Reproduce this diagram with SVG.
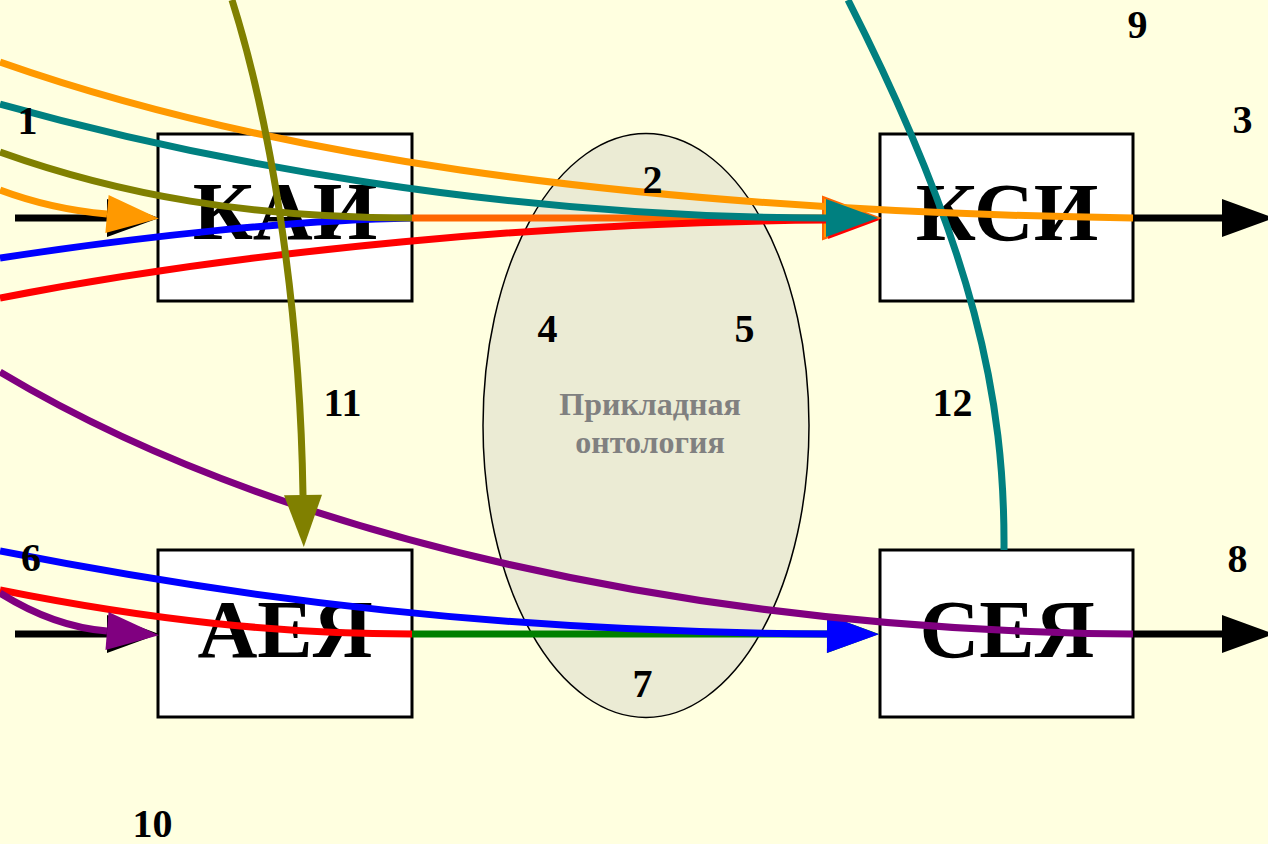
<svg xmlns="http://www.w3.org/2000/svg" width="1268" height="844" viewBox="0 0 1268 844">
<style>
.box{fill:#FFFFFF;stroke:#000000;stroke-width:3}
.bt{font-family:"Liberation Serif","Times New Roman",serif;font-weight:bold;font-size:83px;text-anchor:middle;fill:#000}
.num{font-family:"Liberation Serif","Times New Roman",serif;font-weight:bold;font-size:40px;text-anchor:middle;fill:#000}
.ont{font-family:"Liberation Serif","Times New Roman",serif;font-weight:bold;font-size:32px;text-anchor:middle;fill:#808080}
.c{fill:none;stroke-width:7}
</style>
<defs>
<marker id="aK" markerUnits="userSpaceOnUse" markerWidth="54" markerHeight="40" refX="0" refY="19" orient="auto" overflow="visible"><path d="M0,0 L52,19 L0,38 z" fill="#000000"/></marker>
<marker id="aO" markerUnits="userSpaceOnUse" markerWidth="54" markerHeight="40" refX="0" refY="19" orient="auto" overflow="visible"><path d="M0,0 L52,19 L0,38 z" fill="#FF9900"/></marker>
<marker id="aOR" markerUnits="userSpaceOnUse" markerWidth="56" markerHeight="44" refX="0" refY="21" orient="auto" overflow="visible"><path d="M0,0 L56,21 L0,42 z" fill="#FF9900" stroke="#FF6600" stroke-width="2"/></marker>
<marker id="aR" markerUnits="userSpaceOnUse" markerWidth="54" markerHeight="40" refX="0" refY="19" orient="auto" overflow="visible"><path d="M0,0 L52,19 L0,38 z" fill="#FF0000"/></marker>
<marker id="aT" markerUnits="userSpaceOnUse" markerWidth="54" markerHeight="40" refX="0" refY="19" orient="auto" overflow="visible"><path d="M0,0 L52,19 L0,38 z" fill="#008080"/></marker>
<marker id="aB" markerUnits="userSpaceOnUse" markerWidth="54" markerHeight="40" refX="0" refY="19" orient="auto" overflow="visible"><path d="M0,0 L52,19 L0,38 z" fill="#0000FF"/></marker>
<marker id="aG" markerUnits="userSpaceOnUse" markerWidth="54" markerHeight="40" refX="0" refY="19" orient="auto" overflow="visible"><path d="M0,0 L52,19 L0,38 z" fill="#008000"/></marker>
<marker id="aP" markerUnits="userSpaceOnUse" markerWidth="54" markerHeight="40" refX="0" refY="19" orient="auto" overflow="visible"><path d="M0,0 L52,19 L0,38 z" fill="#800080"/></marker>
<marker id="aV" markerUnits="userSpaceOnUse" markerWidth="54" markerHeight="40" refX="0" refY="19" orient="auto" overflow="visible"><path d="M0,0 L52,19 L0,38 z" fill="#808000"/></marker>
</defs>
<rect x="0" y="0" width="1268" height="844" fill="#FFFFE0"/>
<g id="ontology">
<ellipse cx="646" cy="425.5" rx="163" ry="292" fill="#EBEBD4" stroke="#000" stroke-width="1.5"/>
<text class="ont" x="650" y="415">Прикладная</text>
<text class="ont" x="650" y="453">онтология</text>
</g>
<g id="node-KAI"><rect class="box" x="158" y="134" width="254" height="167"/><text class="bt" x="285" y="239">КАИ</text></g>
<g id="node-KSI"><rect class="box" x="880" y="134" width="253" height="167"/><text class="bt" x="1007" y="240">КСИ</text></g>
<g id="node-AEYa"><rect class="box" x="158" y="550" width="254" height="167"/><text class="bt" x="285" y="657">АЕЯ</text></g>
<g id="node-SEYa"><rect class="box" x="880" y="550" width="253" height="167"/><text class="bt" x="1007" y="657">СЕЯ</text></g>
<g id="connectors">
<path class="c" stroke="#008080" d="M1004,550 C1005,400 975,250 848,0"/>
<path class="c" stroke="#000000" d="M15,218 L107,218" marker-end="url(#aK)"/>
<path class="c" stroke="#000000" d="M15,634 L107,634" marker-end="url(#aK)"/>
<path class="c" stroke="#000000" d="M1133,218 L1222,218" marker-end="url(#aK)"/>
<path class="c" stroke="#000000" d="M1133,634 L1222,634" marker-end="url(#aK)"/>
<path class="c" stroke="#FF6600" d="M412,218 L823,218" marker-end="url(#aOR)"/>
<path class="c" stroke="#FF0000" d="M0,298 C250,250 550,222 828,220" marker-end="url(#aR)"/>
<path class="c" stroke="#0000FF" d="M0,258 C150,235 300,220 412,218"/>
<path class="c" stroke="#808000" d="M0,152 C120,195 250,218 412,218"/>
<path class="c" stroke="#FF9900" d="M0,62 C250,150 600,210 1133,218"/>
<path class="c" stroke="#008080" d="M0,104 C200,160 500,218 826,218" marker-end="url(#aT)"/>
<path class="c" stroke="#FF9900" d="M0,190 C40,205 72,211 107,214" marker-end="url(#aO)"/>
<path class="c" stroke="#008000" d="M412,634 L827,634" marker-end="url(#aG)"/>
<path class="c" stroke="#FF0000" d="M0,590 C150,620 280,634 412,634"/>
<path class="c" stroke="#0000FF" d="M0,551 C250,600 500,632 827,634" marker-end="url(#aB)"/>
<path class="c" stroke="#800080" d="M0,593 C35,615 70,628 107,631" marker-end="url(#aP)"/>
<path class="c" stroke="#800080" d="M0,372 C280,540 700,630 1133,634"/>
<path class="c" stroke="#808000" d="M232,0 C270,120 300,300 303,495" marker-end="url(#aV)"/>
</g>
<g id="labels">
<text class="num" x="27.5" y="134">1</text>
<text class="num" x="652.5" y="193">2</text>
<text class="num" x="1242.5" y="133">3</text>
<text class="num" x="547.5" y="342">4</text>
<text class="num" x="744.5" y="342">5</text>
<text class="num" x="31" y="571">6</text>
<text class="num" x="642.5" y="697">7</text>
<text class="num" x="1237.5" y="572">8</text>
<text class="num" x="1137.5" y="38">9</text>
<text class="num" x="152.5" y="837">10</text>
<text class="num" x="342.5" y="416">11</text>
<text class="num" x="952.5" y="416">12</text>
</g>
</svg>
